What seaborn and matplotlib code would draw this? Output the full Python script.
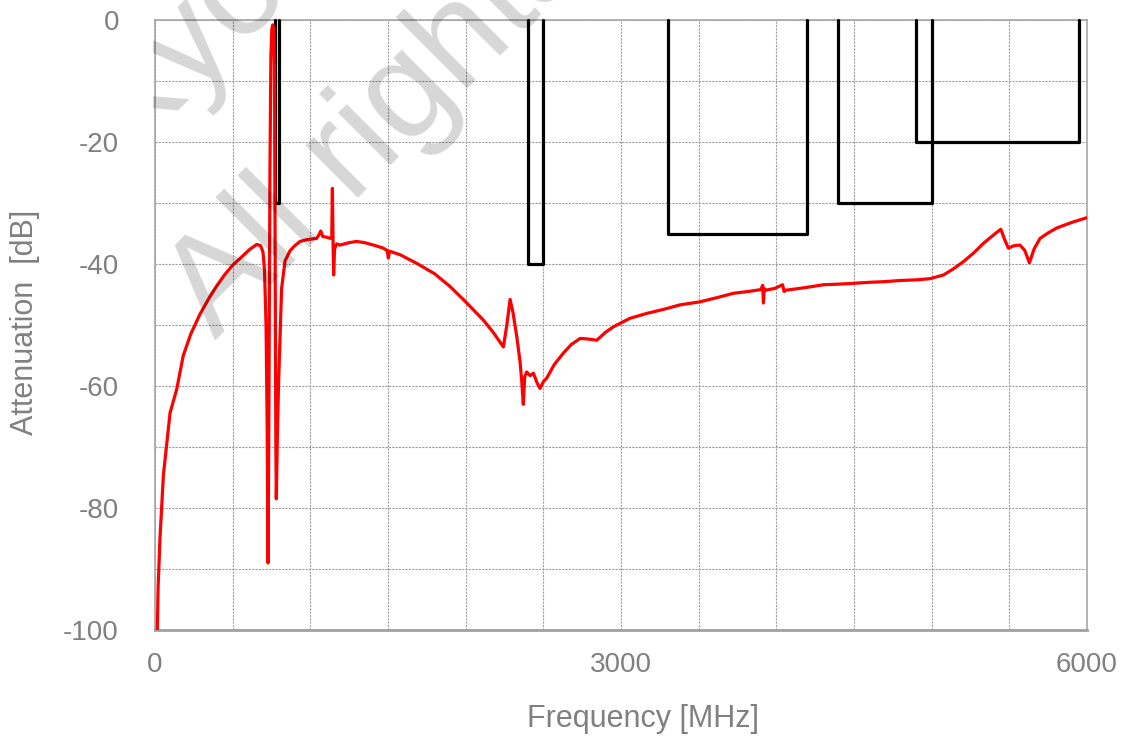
import numpy as np
import pandas as pd
import matplotlib
matplotlib.use("Agg")
import matplotlib.pyplot as plt
from matplotlib.patches import Rectangle
import seaborn as sns

# ---- data ----
freq_mhz = [15, 20, 32, 54, 97, 140, 182, 230, 290, 350, 397, 450, 504, 560, 610, 655,
            680, 695, 705, 715, 722, 728, 733, 740, 746, 752, 758, 764, 769, 773, 778,
            781, 788, 795, 805, 815, 837, 870, 900, 934, 980, 1041, 1060, 1067, 1080,
            1105, 1130, 1138, 1142, 1146, 1150, 1156, 1170, 1191, 1250, 1298, 1350,
            1420, 1470, 1495, 1502, 1510, 1580, 1685, 1800, 1900, 2000, 2114, 2180,
            2243, 2265, 2286, 2305, 2329, 2350, 2361, 2371, 2380, 2393, 2415, 2436,
            2460, 2479, 2500, 2522, 2570, 2629, 2680, 2737, 2790, 2844, 2900, 2951,
            3058, 3166, 3280, 3380, 3509, 3620, 3724, 3820, 3900, 3912, 3917, 3922,
            3930, 3990, 4040, 4050, 4060, 4150, 4230, 4303, 4400, 4475, 4600, 4690,
            4800, 4904, 4990, 5076, 5140, 5205, 5270, 5334, 5400, 5445, 5470, 5494,
            5530, 5569, 5600, 5629, 5660, 5698, 5750, 5805, 5900, 6000]
atten_db = [-100, -93, -85, -74.6, -64.4, -60.5, -55, -51.5, -48.2, -45.5, -43.6, -41.7,
            -40.1, -38.8, -37.6, -36.8, -37.0, -38.0, -41, -50, -66, -89, -65, -25, -6,
            -1.5, -0.8, -1.5, -8, -35, -70, -78.5, -68, -60, -52, -44, -39.5, -37.8,
            -37.0, -36.3, -36.0, -35.8, -35.0, -34.6, -35.5, -35.6, -35.8, -35.5, -27.6,
            -36, -41.8, -37.5, -36.7, -36.9, -36.5, -36.3, -36.5, -37.0, -37.4, -37.8,
            -39, -37.9, -38.5, -39.9, -41.6, -43.7, -46.2, -49.2, -51.3, -53.6, -50,
            -45.8, -48, -51.9, -56, -59.2, -63, -58.5, -57.7, -58.3, -57.9, -59.5,
            -60.4, -59.3, -58.7, -56.5, -54.6, -53.2, -52.2, -52.3, -52.5, -51.2,
            -50.3, -48.9, -48.1, -47.4, -46.7, -46.2, -45.5, -44.8, -44.5, -44.2,
            -43.5, -46.4, -44.0, -44.3, -44.0, -43.4, -44.5, -44.3, -44.0, -43.7,
            -43.4, -43.3, -43.2, -43.0, -42.9, -42.7, -42.6, -42.4, -41.8, -40.8,
            -39.6, -38.2, -36.6, -35.2, -34.3, -36.0, -37.4, -37.0, -36.9, -37.8,
            -39.8, -37.5, -35.8, -34.9, -34.1, -33.2, -32.4]

# attenuation mask (spec limits)
mask_start = [775, 2400, 3300, 4400, 4900]
mask_stop = [800, 2500, 4200, 5000, 5950]
mask_level = [-30, -40, -35, -30, -20]

x_tick_labels = ["0", "3000", "6000"]
y_tick_labels = ["-100", "-80", "-60", "-40", "-20", "0"]

# ---- style ----
sns.set_theme(style="white")
plt.rcParams["font.family"] = ["Liberation Sans", "DejaVu Sans"]
txt_color = "#808080"

fig = plt.figure(figsize=(11.33, 7.42), dpi=100)
ax = fig.add_axes([155 / 1133, 112 / 742, 932 / 1133, 610 / 742])

# mask polylines
for s, e, lv in zip(mask_start, mask_stop, mask_level):
    mdf = pd.DataFrame({"f": [s, s, e, e], "a": [0, lv, lv, 0]})
    sns.lineplot(data=mdf, x="f", y="a", sort=False, estimator=None, ax=ax,
                 color="black", lw=2.3, zorder=3, clip_on=False)

# measured curve
df = pd.DataFrame({"Frequency": freq_mhz, "Attenuation": atten_db})
sns.lineplot(data=df, x="Frequency", y="Attenuation", sort=False, estimator=None,
             ax=ax, color="#ff0000", lw=2.3, zorder=4)

ax.set_xlim(0, 6000)
ax.set_ylim(-100, 0)

xt = np.arange(0, 6001, 500)
ax.set_xticks(xt)
ax.set_xticklabels([x_tick_labels[int(v // 3000)] if v % 3000 == 0 else "" for v in xt])
yt = np.arange(-100, 1, 10)
ax.set_yticks(yt)
ax.set_yticklabels([y_tick_labels[int((v + 100) // 20)] if v % 20 == 0 else "" for v in yt])

ax.tick_params(axis="both", length=0, labelsize=20, labelcolor=txt_color)
ax.tick_params(axis="x", pad=16)
ax.tick_params(axis="y", pad=26)

ax.grid(True, color="#a0a0a0", lw=0.8, linestyle=(0, (2, 1)), zorder=0)
ax.set_axisbelow(True)

for side in ["top", "right", "left"]:
    ax.spines[side].set_color("#a6a6a6")
    ax.spines[side].set_linewidth(1.2)
ax.spines["bottom"].set_color("#a0a0a0")
ax.spines["bottom"].set_linewidth(2.0)

ax.set_xlabel("Frequency [MHz]", fontsize=22, color=txt_color)
ax.set_ylabel("Attenuation  [dB]", fontsize=22, color=txt_color)
ax.xaxis.set_label_coords(0.524, -0.122)
ax.yaxis.set_label_coords(-0.123, 0.504)

# light watermark, clipped on the left at the plot edge
clip_rect = Rectangle((153 / 1133, 0), 1, 1, transform=fig.transFigure,
                      facecolor="none", edgecolor="none")
fig.add_artist(clip_rect)
wm = dict(fontsize=100, color="black", alpha=0.16, rotation=45,
          rotation_mode="anchor", ha="left", va="baseline", zorder=10)
t1 = fig.text(215 / 1133, 1 - 340 / 742, "All rights reserved", **wm)
t2 = fig.text(122 / 1133, 1 - 155 / 742, "Kyocera", **wm)
for t in (t1, t2):
    t.set_clip_path(clip_rect)

fig.savefig("out.png", dpi=100)
